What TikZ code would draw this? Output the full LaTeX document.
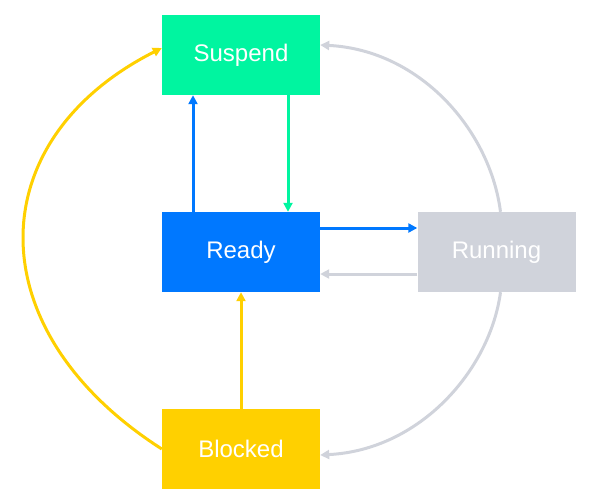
\documentclass[tikz,border=0pt]{standalone}
\usepackage{fontspec}
\setmainfont{Liberation Sans}
\usepackage{xcolor}
\usetikzlibrary{arrows.meta,positioning,calc}
\definecolor{sg}{RGB}{0,245,160}
\definecolor{rb}{RGB}{0,120,255}
\definecolor{rg}{RGB}{208,211,219}
\definecolor{by}{RGB}{255,208,0}

\begin{document}
\begin{tikzpicture}[x=1pt,y=-1pt,
  statebox/.style={minimum width=158pt,minimum height=80pt,inner sep=0pt,text=white,font=\fontsize{24}{28}\selectfont},
  flow/.style={line width=3pt,-{Triangle[length=9pt,width=9pt]}}]
  % frame
  \useasboundingbox (0,0) rectangle (589,498);

  % states
  \node[statebox,fill=sg] (suspend) at (241,55) {Suspend};
  \node[statebox,fill=rb] (ready) at (241,252) {Ready};
  \node[statebox,fill=rg] (running) at (496.5,252) {Running};
  \node[statebox,fill=by] (blocked) at (241,449) {Blocked};

  % straight arrows
  \draw[flow,rb] ([xshift=-48pt]ready.north) -- ([xshift=-48pt]suspend.south);
  \draw[flow,sg] ([xshift=47pt]suspend.south) -- ([xshift=47pt]ready.north);
  \draw[flow,rb] ([yshift=24pt]ready.east) -- ([yshift=24pt]running.west);
  \draw[flow,rg] ([yshift=-22pt]running.west) -- ([yshift=-22pt]ready.east);
  \draw[flow,by] (blocked.north) -- (ready.south);

  % curved arrows
  \draw[flow,by] (blocked.west) .. controls (-24,330) and (-20,140) .. ([yshift=7pt]suspend.west);
  \draw[flow,rg] ([xshift=4pt]running.north) .. controls (490,130) and (420,50) .. ([yshift=10pt]suspend.east);
  \draw[flow,rg] ([xshift=4pt]running.south) .. controls (490,370) and (420,450) .. ([yshift=-6pt]blocked.east);
\end{tikzpicture}
\end{document}
